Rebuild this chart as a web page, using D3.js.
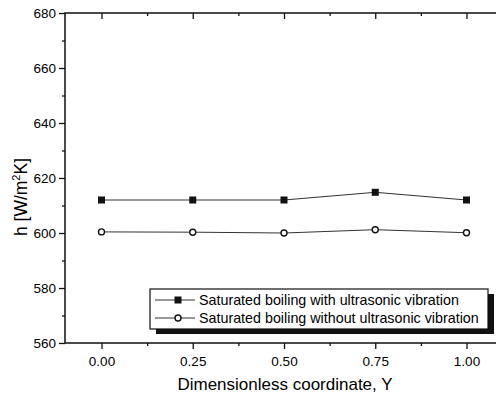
<!DOCTYPE html>
<html>
<head>
<meta charset="utf-8">
<script src="https://cdn.jsdelivr.net/npm/d3@7"></script>
<style>
body { margin: 0; background: #fff; }
text { font-family: Arial, "Liberation Sans", sans-serif; fill: #000; }
</style>
</head>
<body>
<div id="graph"></div>
<script>
// data
var positions = [0.00, 0.25, 0.50, 0.75, 1.00];
var withUltrasonic = [612.0, 612.0, 612.0, 614.8, 612.0];
var withoutUltrasonic = [600.4, 600.3, 600.0, 601.2, 600.1];
var seriesNames = ["Saturated boiling with ultrasonic vibration", "Saturated boiling without ultrasonic vibration"];
var xTicks = [0.00, 0.25, 0.50, 0.75, 1.00];
var yTicks = [560, 580, 600, 620, 640, 660, 680];

var W = 496, H = 397;
var margin = {top: 13, right: -7, bottom: 54, left: 65};
var width = W - margin.left - margin.right,
    height = H - margin.top - margin.bottom;

var svg = d3.select('#graph').append('svg')
    .attr('width', W).attr('height', H);

var g = svg.append('g').attr('transform', `translate(${margin.left},${margin.top})`);

var x = d3.scaleLinear().domain([-0.1, 1.1]).range([0, width]);
var y = d3.scaleLinear().domain([560, 680]).range([height, 0]);

var minorX = [0.125, 0.375, 0.625, 0.875];
var minorY = d3.range(570, 680, 20);

// frame
g.append('rect').attr('width', width).attr('height', height)
  .attr('fill', 'none').attr('stroke', '#111').attr('stroke-width', 1.5);

// bottom axis
g.append('g').attr('transform', `translate(0,${height})`)
  .call(d3.axisBottom(x).tickValues(xTicks).tickSize(6).tickPadding(7).tickFormat(d3.format('.2f')));
g.append('g').attr('transform', `translate(0,${height})`)
  .call(d3.axisBottom(x).tickValues(minorX).tickSize(3).tickFormat(''));
// top axis (inward)
g.append('g').call(d3.axisBottom(x).tickValues(xTicks).tickSize(6).tickFormat(''));
g.append('g').call(d3.axisBottom(x).tickValues(minorX).tickSize(3).tickFormat(''));
// left axis
g.append('g').call(d3.axisLeft(y).tickValues(yTicks).tickSize(6).tickPadding(3));
g.append('g').call(d3.axisLeft(y).tickValues(minorY).tickSize(3).tickFormat(''));
// right axis (inward)
g.append('g').attr('transform', `translate(${width},0)`)
  .call(d3.axisLeft(y).tickValues(yTicks).tickSize(6).tickFormat(''));
g.append('g').attr('transform', `translate(${width},0)`)
  .call(d3.axisLeft(y).tickValues(minorY).tickSize(3).tickFormat(''));

g.selectAll('.domain').remove();
g.selectAll('.tick line').attr('stroke', '#111').attr('stroke-width', 1.3);
g.selectAll('.tick text').attr('font-size', 13.5).attr('fill', '#000')
  .style('font-family', 'Arial, "Liberation Sans", sans-serif');

// axis titles
svg.append('text').attr('x', 285).attr('y', 390).attr('text-anchor', 'middle')
  .attr('font-size', 17).text('Dimensionless coordinate, Y');

var yt = svg.append('text').attr('transform', 'translate(27,197) rotate(-90)')
  .attr('text-anchor', 'middle').attr('font-size', 17.5);
yt.append('tspan').text('h [W/m');
yt.append('tspan').attr('font-size', 11).attr('dy', -7).text('2');
yt.append('tspan').attr('dy', 7).text('K]');

// series
var line = d3.line().x((d, i) => x(positions[i])).y(d => y(d));
g.append('path').datum(withUltrasonic).attr('d', line)
  .attr('fill', 'none').attr('stroke', '#333').attr('stroke-width', 1);
g.append('path').datum(withoutUltrasonic).attr('d', line)
  .attr('fill', 'none').attr('stroke', '#333').attr('stroke-width', 1);

g.selectAll('.sq').data(withUltrasonic).enter().append('rect')
  .attr('x', (d, i) => x(positions[i]) - 3.5).attr('y', d => y(d) - 3.5)
  .attr('width', 7).attr('height', 7).attr('fill', '#111');
g.selectAll('.ci').data(withoutUltrasonic).enter().append('circle')
  .attr('cx', (d, i) => x(positions[i])).attr('cy', d => y(d)).attr('r', 3)
  .attr('fill', '#fff').attr('stroke', '#111').attr('stroke-width', 1.4);

// legend
var lg = svg.append('g').attr('transform', 'translate(150,289)');
lg.append('rect').attr('x', 6).attr('y', 5).attr('width', 338).attr('height', 40).attr('fill', '#111');
lg.append('rect').attr('width', 338).attr('height', 40).attr('fill', '#fff')
  .attr('stroke', '#111').attr('stroke-width', 1.2);

seriesNames.forEach(function(name, i) {
  var ry = 11 + i * 18;
  lg.append('line').attr('x1', 5).attr('x2', 45).attr('y1', ry).attr('y2', ry)
    .attr('stroke', '#333').attr('stroke-width', 1);
  if (i === 0) {
    lg.append('rect').attr('x', 24.5).attr('y', ry - 3.5).attr('width', 7).attr('height', 7).attr('fill', '#111');
  } else {
    lg.append('circle').attr('cx', 28).attr('cy', ry).attr('r', 3)
      .attr('fill', '#fff').attr('stroke', '#111').attr('stroke-width', 1.4);
  }
  lg.append('text').attr('x', 49).attr('y', ry + 5).attr('font-size', 14.3).text(name);
});
</script>
</body>
</html>
